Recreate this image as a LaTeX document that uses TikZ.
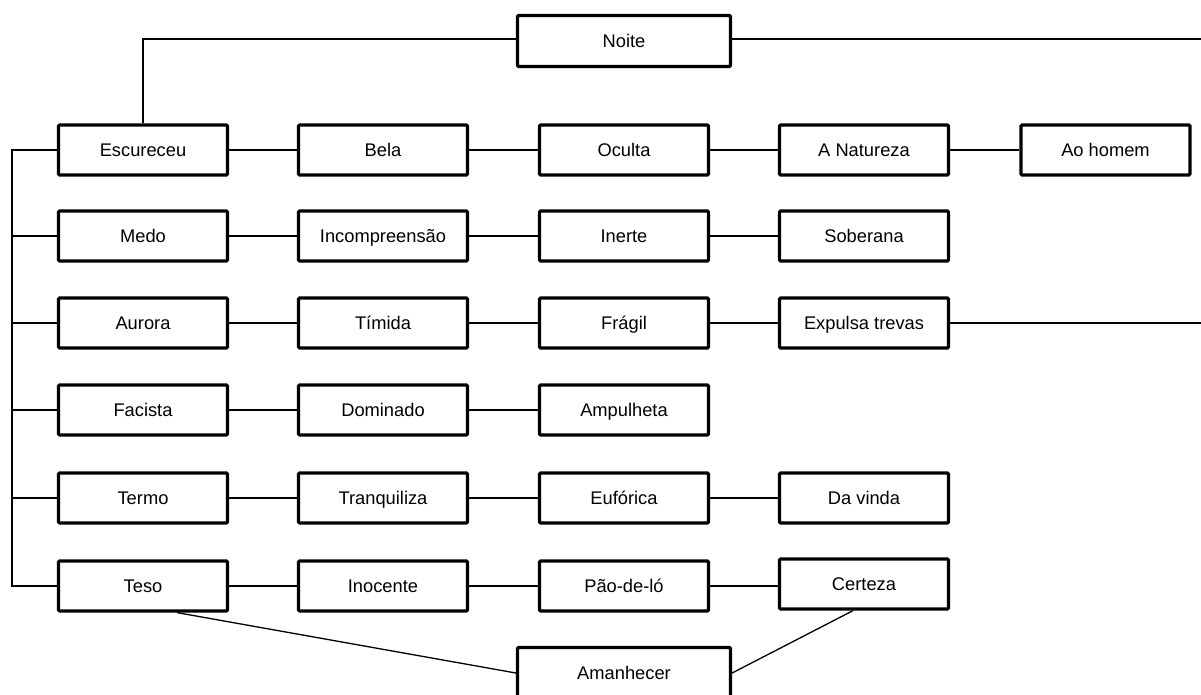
\documentclass[tikz,border=0pt]{standalone}
\usepackage{fontspec}
\setmainfont{Liberation Sans}
\begin{document}
\begin{tikzpicture}[x=1pt,y=-1pt,
  box/.style={draw=black,line width=3.2pt,rounded corners=1.2pt,fill=white,
    minimum width=169pt,minimum height=50pt,inner sep=0pt,
    text height=13.1pt,text depth=0pt,
    font=\fontsize{18.3}{22}\selectfont},
  wide/.style={box,minimum width=213pt,minimum height=51pt},
  link/.style={draw=black,line width=1.3pt}]
\useasboundingbox (0,0) rectangle (1201,694);

% column centres
\def\ca{143}\def\cb{383}\def\cc{624}\def\cd{864}\def\ce{1105.5}

% row 1
\node[box] (esc)  at (\ca,150) {Escureceu};
\node[box] (bela) at (\cb,150) {Bela};
\node[box] (ocul) at (\cc,150) {Oculta};
\node[box] (natu) at (\cd,150) {A Natureza};
\node[box] (homem) at (\ce,150) {Ao homem};
% row 2
\node[box] (medo) at (\ca,236) {Medo};
\node[box] (inco) at (\cb,236) {Incompreensão};
\node[box] (iner) at (\cc,236) {Inerte};
\node[box] (sobe) at (\cd,236) {Soberana};
% row 3
\node[box] (auro) at (\ca,323) {Aurora};
\node[box] (timi) at (\cb,323) {Tímida};
\node[box] (frag) at (\cc,323) {Frágil};
\node[box] (expu) at (\cd,323) {Expulsa trevas};
% row 4
\node[box] (faci) at (\ca,410) {Facista};
\node[box] (domi) at (\cb,410) {Dominado};
\node[box] (ampu) at (\cc,410) {Ampulheta};
% row 5
\node[box] (term) at (\ca,498) {Termo};
\node[box] (tran) at (\cb,498) {Tranquiliza};
\node[box] (eufo) at (\cc,498) {Eufórica};
\node[box] (vind) at (\cd,498) {Da vinda};
% row 6
\node[box] (teso) at (\ca,586) {Teso};
\node[box] (inoc) at (\cb,586) {Inocente};
\node[box] (pao)  at (\cc,586) {Pão-de-ló};
\node[box] (cert) at (\cd,584) {Certeza};

% top and bottom nodes
\node[wide] (noite) at (\cc,41) {Noite};
\node[wide] (aman)  at (\cc,673) {Amanhecer};

% free ends and the left bus
\coordinate (rtop) at (1201,39);
\coordinate (rmid) at (1201,323);
\coordinate (busA) at (12,150);
\coordinate (busB) at (12,586);

\draw[link] (esc.north) |- ([yshift=2pt]noite.west);
\draw[link] ([yshift=2pt]noite.east) -- (rtop);
\draw[link] (expu.east) -- (rmid);

\draw[link] (esc.west) -- (busA) -- (busB) -- (teso.west);
\foreach \n in {medo,auro,faci,term}
  \draw[link] (\n.west) -- (\n.west -| busA);

\draw[link] (esc) -- (bela) (bela) -- (ocul) (ocul) -- (natu) (natu) -- (homem);
\draw[link] (medo) -- (inco) (inco) -- (iner) (iner) -- (sobe);
\draw[link] (auro) -- (timi) (timi) -- (frag) (frag) -- (expu);
\draw[link] (faci) -- (domi) (domi) -- (ampu);
\draw[link] (term) -- (tran) (tran) -- (eufo) (eufo) -- (vind);
\draw[link] (teso) -- (inoc) (inoc) -- (pao) (pao.east) -- (pao.east -| cert.west);

\draw[link] ([xshift=34pt]teso.south) -- (aman.west);
\draw[link] ([xshift=-11pt]cert.south) -- (aman.east);
\end{tikzpicture}
\end{document}
